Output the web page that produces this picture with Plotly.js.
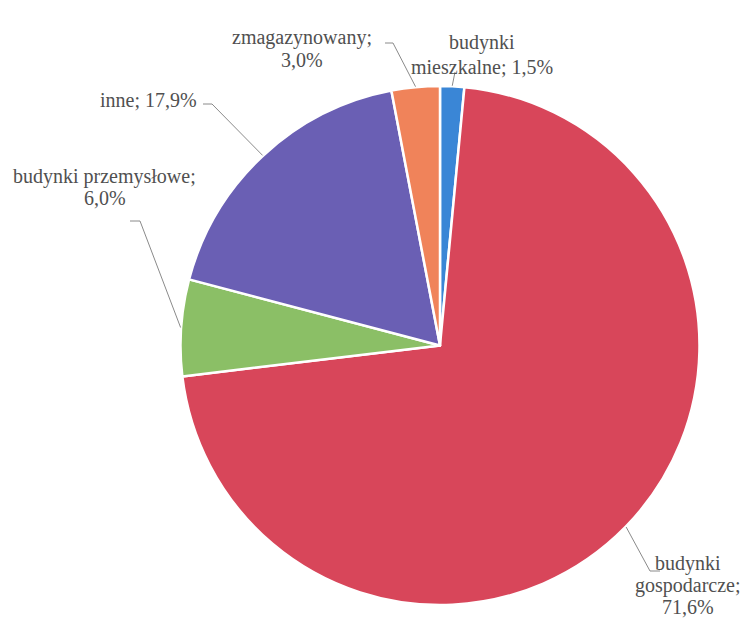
<!DOCTYPE html>
<html><head><meta charset="utf-8">
<script src="https://cdn.plot.ly/plotly-3.0.1.min.js"></script>
<style>body{margin:0;background:#fff}#c{width:755px;height:620px}</style>
</head><body><div id="c"></div>
<script>
const categories = ["budynki mieszkalne", "budynki gospodarcze", "budynki przemysłowe", "inne", "zmagazynowany"];
const labelTexts = ["budynki<br>mieszkalne; 1,5%", "budynki<br>gospodarcze;<br>71,6%", "budynki przemysłowe;<br>6,0%", "inne; 17,9%", "zmagazynowany;<br>3,0%"];
const values = [1.5, 71.6, 6.0, 17.9, 3.0];
const colors = ["#3a86d6", "#d8465a", "#8bbf66", "#6a5fb4", "#f0835a"];

const W = 755, H = 620;
const cx = 440, cy = 345.5, R = 260;
// label layout (pixel centres), elbow points of leader lines
const labelPos = [[482, 55], [688, 585], [105, 187], [148, 100], [302, 49]];
const lineGap = [24, 22, 22, 22, 22];
const elbows = [[[455, 72]], [[650, 571], [660, 571]], [[140, 221], [130, 221]], [[212, 104], [203, 104]], [[393, 43], [385, 43]]];

const px = x => x / W, py = y => 1 - y / H;
const total = values.reduce((a, b) => a + b, 0);
let cum = 0;
const shapes = [], annotations = [];
values.forEach((v, i) => {
  const mid = (cum + v / 2) / total * 2 * Math.PI;
  cum += v;
  const ex = cx + R * Math.sin(mid), ey = cy - R * Math.cos(mid);
  let path = `M${px(ex)},${py(ey)}`;
  elbows[i].forEach(p => { path += ` L${px(p[0])},${py(p[1])}`; });
  shapes.push({type: 'path', xref: 'paper', yref: 'paper', path: path, line: {color: '#8a8a8a', width: 1}});
  const lines = labelTexts[i].split('<br>');
  lines.forEach((t, j) => {
    const yy = labelPos[i][1] + (j - (lines.length - 1) / 2) * lineGap[i];
    annotations.push({xref: 'paper', yref: 'paper', x: px(labelPos[i][0]), y: py(yy),
      xanchor: 'center', yanchor: 'middle', showarrow: false, align: 'center',
      text: t, font: {family: 'Liberation Serif', size: 20, color: '#505050'}});
  });
});

Plotly.newPlot('c', [{
  type: 'pie', labels: categories, values: values, sort: false, direction: 'clockwise', rotation: 0,
  marker: {colors: colors, line: {color: '#ffffff', width: 2.5}},
  textinfo: 'none', hoverinfo: 'label+percent',
  domain: {x: [180 / W, 700 / W], y: [1 - 605 / H, 1 - 86 / H]}
}], {
  width: W, height: H, margin: {l: 0, r: 0, t: 0, b: 0}, showlegend: false,
  font: {family: 'Liberation Serif'},
  paper_bgcolor: '#ffffff', shapes: shapes, annotations: annotations
}, {displayModeBar: false, staticPlot: true});
</script></body></html>
